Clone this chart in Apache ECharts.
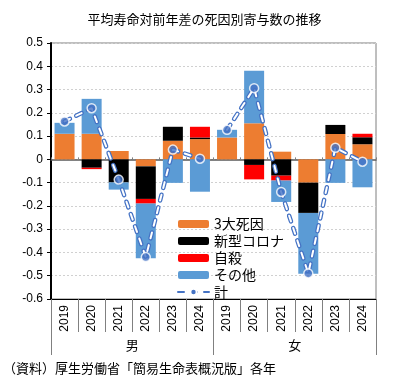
<!DOCTYPE html>
<html><head><meta charset="utf-8">
<script src="https://cdn.jsdelivr.net/npm/echarts@6/dist/echarts.min.js"></script>
<style>html,body{margin:0;padding:0;background:#fff}#c{width:409px;height:384px}</style>
</head><body><div id="c"></div>
<script>
var years = ['2019','2020','2021','2022','2023','2024','2019','2020','2021','2022','2023','2024'];
var groups = ['男','女'];
var top3 = [0.11, 0.11, 0.036, -0.03, 0.08, 0.087, 0.094, 0.155, 0.033, -0.10, 0.109, 0.065];
var covid = [0, -0.036, -0.099, -0.14, 0.06, 0.007, 0, -0.024, -0.07, -0.13, 0.039, 0.03];
var suicide = [0, -0.006, 0, -0.02, 0, 0.046, 0, -0.062, -0.021, 0, 0, 0.015];
var others = [0.047, 0.15, -0.031, -0.235, -0.101, -0.139, 0.033, 0.226, -0.092, -0.262, -0.101, -0.12];
var totalMale = [0.163, 0.22, -0.087, -0.42, 0.042, 0.003];
var totalFemale = [0.127, 0.306, -0.14, -0.49, 0.05, -0.01];
var yTicks = {min: -0.6, max: 0.5, interval: 0.1};

var maleLine = totalMale.concat(totalFemale.map(function(){return '-';}));
var femaleLine = totalMale.map(function(){return '-';}).concat(totalFemale);
var allTotal = totalMale.concat(totalFemale);

var jp = '"Noto Sans CJK JP", sans-serif';
var chart = echarts.init(document.getElementById('c'), null, {renderer:'canvas'});
function bar(name, data, color){
  return {name:name, type:'bar', stack:'s', data:data, barWidth:20,
    itemStyle:{color:color}, xAxisIndex:0, z:2};
}
function line(name, data, color, width, z){
  return {name:name, type:'line', data:data, xAxisIndex:0, symbol:'circle', symbolSize:9,
    showSymbol:false, z:z, silent:true,
    itemStyle:{color:'#4472C4', borderColor:'#fff', borderWidth:1.5},
    lineStyle:{color:color, width:width, type:[6,7], cap:'round'}};
}
chart.setOption({
  animation:false,
  title:{text:'平均寿命対前年差の死因別寄与数の推移', left:'center', top:8,
    textStyle:{fontFamily:jp, fontSize:13, fontWeight:'normal', color:'#000'}},
  grid:{left:51, right:33, top:43, bottom:85, show:true, borderColor:'#7f7f7f', borderWidth:1},
  legend:{orient:'vertical', left:172, top:212, itemWidth:31, itemHeight:8, itemGap:3,
    data:['3大死因','新型コロナ','自殺','その他','計'],
    textStyle:{fontFamily:jp, fontSize:14, color:'#000'}},
  xAxis:[
    {type:'category', data:years, position:'bottom',
      axisLine:{onZero:false, lineStyle:{color:'#000', width:1}},
      axisTick:{show:true, interval:0, length:33, lineStyle:{color:'#808080'}},
      axisLabel:{rotate:90, interval:0, margin:6, fontSize:12, color:'#000', fontFamily:'"Liberation Sans", Arial, sans-serif'}},
    {type:'category', data:groups, position:'bottom',
      axisLine:{show:false, onZero:false},
      axisTick:{show:true, length:56, lineStyle:{color:'#808080'}},
      axisLabel:{margin:40, fontSize:13, color:'#000', fontFamily:jp}},
    {type:'category', data:years, position:'bottom',
      axisLine:{show:true, onZero:true, lineStyle:{color:'#595959', width:1.5}},
      axisTick:{show:true, interval:0, length:2, inside:true, lineStyle:{color:'#808080'}},
      axisLabel:{show:false}}
  ],
  yAxis:{type:'value', min:yTicks.min, max:yTicks.max, interval:yTicks.interval,
    axisLine:{show:true, lineStyle:{color:'#000', width:2}},
    axisTick:{show:true, length:4, lineStyle:{color:'#000'}},
    splitLine:{lineStyle:{color:'#d0d0d0', type:[2,2]}},
    axisLabel:{color:'#000', fontSize:12, margin:8, fontFamily:'"Liberation Sans", Arial, sans-serif',
      formatter:function(v){ if(Math.abs(v)<1e-9) return '0'; return v.toFixed(1);} }},
  series:[
    bar('3大死因', top3, '#ED7D31'),
    bar('新型コロナ', covid, '#000000'),
    bar('自殺', suicide, '#FF0000'),
    bar('その他', others, '#5B9BD5'),
    line('計', maleLine, '#4472C4', 4.5, 5),
    line('計', femaleLine, '#4472C4', 4.5, 5),
    line('_w1', maleLine, '#ffffff', 2, 6),
    line('_w2', femaleLine, '#ffffff', 2, 6),
    {name:'_pts', type:'scatter', data:allTotal, xAxisIndex:0, symbol:'circle', symbolSize:9, z:7,
      itemStyle:{color:'#4472C4', borderColor:'#fff', borderWidth:1.5}}
  ],
  graphic:[{type:'text', left:3, top:362,
    style:{text:'（資料）厚生労働省「簡易生命表概況版」各年', font:'13px "Noto Sans CJK JP", sans-serif', fill:'#000'}}]
});
</script></body></html>
